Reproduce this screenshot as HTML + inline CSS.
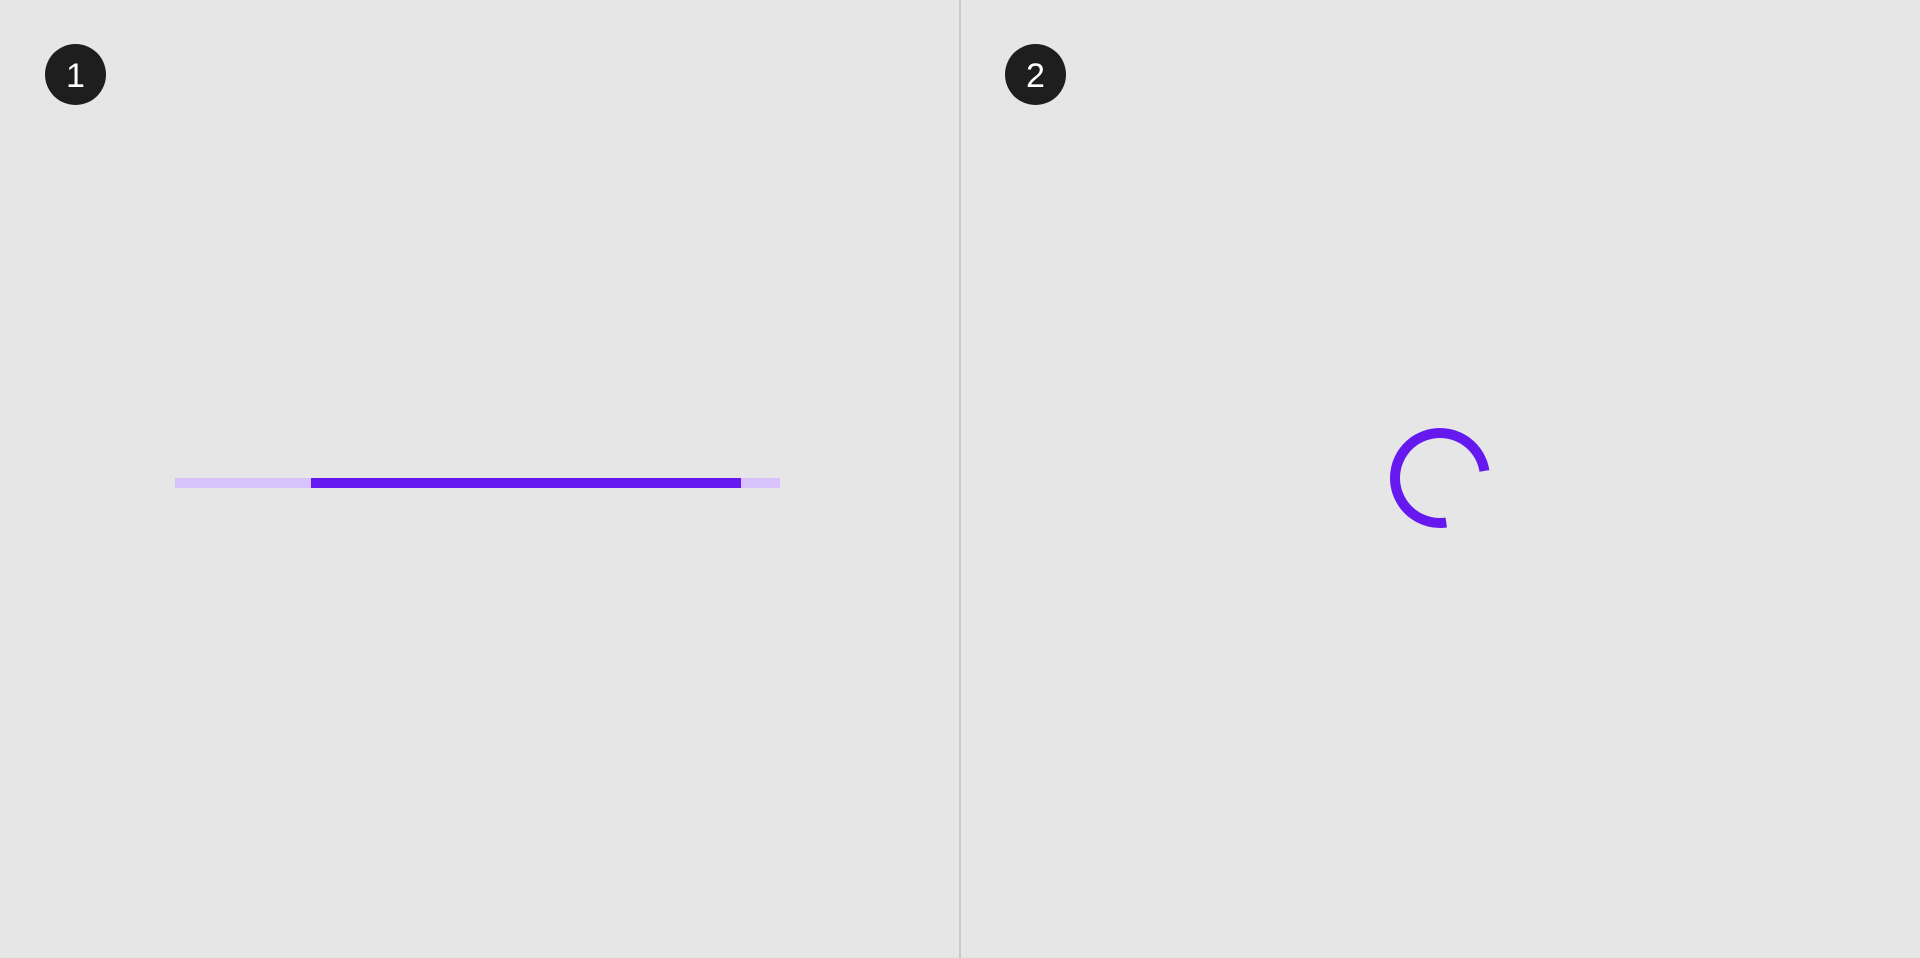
<!DOCTYPE html>
<html><head><meta charset="utf-8"><style>
html,body{margin:0;padding:0;width:1920px;height:958px;background:#e6e6e6;overflow:hidden;font-family:"Liberation Sans",sans-serif}
.badge{position:absolute;width:61px;height:61px;border-radius:50%;background:#1e1e1e;color:#fff;font-size:34px;display:flex;align-items:center;justify-content:center;box-sizing:border-box;padding-top:3px}
</style></head><body>
<div style="position:absolute;left:959px;top:0;width:2px;height:958px;background:#c9c9c9"></div>
<div class="badge" style="left:45px;top:44px">1</div>
<div class="badge" style="left:1005px;top:44px">2</div>
<div style="position:absolute;left:175px;top:478px;width:605px;height:10px;background:#d8c2fb"></div>
<div style="position:absolute;left:311px;top:478px;width:430px;height:10px;background:#6519ef"></div>
<svg style="position:absolute;left:0;top:0" width="1920" height="958">
<path id="arc" fill="none" stroke="#6519ef" stroke-width="10"/>
</svg>
<script>
var startDeg=82, endDeg=351;
var cx=1440, cy=478, r=45;
function pt(d){var a=d*Math.PI/180;return [cx+r*Math.cos(a),cy+r*Math.sin(a)];}
var s=pt(startDeg), e=pt(endDeg);
document.getElementById('arc').setAttribute('d','M'+s[0]+' '+s[1]+' A'+r+' '+r+' 0 '+((endDeg-startDeg)>180?1:0)+' 1 '+e[0]+' '+e[1]);
</script>
</body></html>
